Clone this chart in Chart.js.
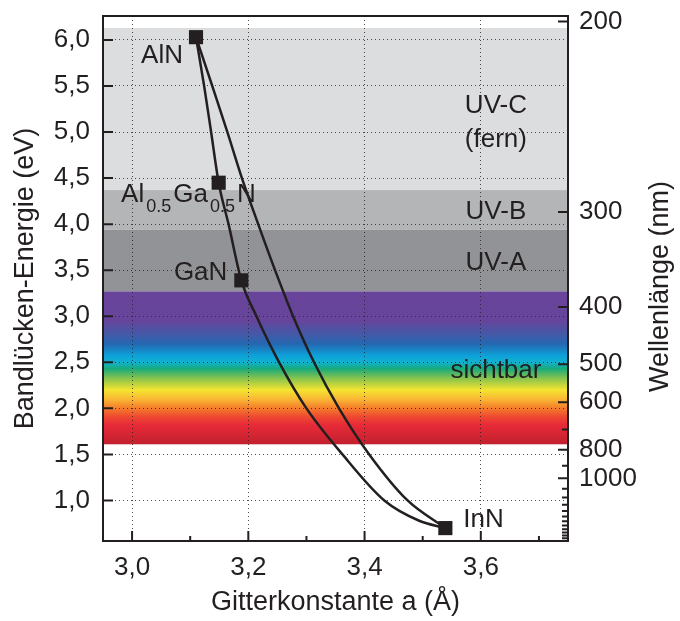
<!DOCTYPE html>
<html>
<head>
<meta charset="utf-8">
<title>Bandlücke und Gitterkonstante</title>
<script src="https://cdn.jsdelivr.net/npm/chart.js@4.4.1/dist/chart.umd.min.js"></script>
<style>
  html, body { margin: 0; padding: 0; background: #fff; }
  #chart { display: block; }
</style>
</head>
<body>
<canvas id="chart" width="680" height="621"></canvas>
<script>
// nitride materials (squares)
const materials = ["AlN", "Al0.5Ga0.5N", "GaN", "InN"];
const latticeA = [3.11, 3.149, 3.188, 3.539];
const gapE = [6.03, 4.45, 3.39, 0.70];

// curve AlN -> AlGaN -> GaN -> InN
const curve1A = [3.11, 3.124, 3.136, 3.149, 3.166, 3.188, 3.214, 3.253, 3.300, 3.362, 3.434, 3.494, 3.539];
const curve1E = [6.03, 5.5, 5.0, 4.45, 4.0, 3.39, 3.0, 2.5, 2.0, 1.5, 1.0, 0.78, 0.70];

// curve AlN -> InN
const curve2A = [3.11, 3.138, 3.164, 3.189, 3.217, 3.246, 3.277, 3.313, 3.356, 3.408, 3.474, 3.539];
const curve2E = [6.03, 5.5, 5.0, 4.5, 4.0, 3.5, 3.0, 2.5, 2.0, 1.5, 1.0, 0.70];

// spectral regions, energy range in eV
const bandNames = ["UV-C", "UV-B", "UV-A", "sichtbar"];
const bandNotes = ["(fern)", "", "", ""];
const bandTop = [6.13, 4.37, 3.94, 3.27];
const bandBottom = [4.37, 3.94, 3.27, 1.61];

// axis ticks
const xMajorTicks = [3.0, 3.2, 3.4, 3.6];
const xMinorTicks = [3.1, 3.3, 3.5, 3.7];
const yTicks = [1.0, 1.5, 2.0, 2.5, 3.0, 3.5, 4.0, 4.5, 5.0, 5.5, 6.0];
const wlLabeled = [200, 300, 400, 500, 600, 800, 1000];
const wlMinor = [700, 900, 1100, 1200, 1300, 1400, 1500, 1600, 1700, 1800, 1900, 2000, 2100];

// ---- styles ----
const INK = "#231f20";
const GRID = "rgba(35,31,32,0.8)";
const FONT = "'Liberation Sans', Arial, Helvetica, sans-serif";
const bandColors = ["#dcdddf", "#b4b5b7", "#929396", null];
// colour stops of the visible spectrum (eV, colour)
const spectrum = [
    [3.27, "#68449a"], [2.95, "#66459b"], [2.80, "#435aa8"], [2.70, "#2567b1"],
    [2.57, "#0da2d9"], [2.50, "#12b1cf"], [2.43, "#18ab7b"], [2.32, "#8dc54b"],
    [2.20, "#f4e431"], [2.09, "#f9b233"], [2.00, "#f47b2a"], [1.91, "#ee4a31"],
    [1.82, "#e72a38"], [1.61, "#c2202f"]
];
const bandLabelX = 3.626;
const bandLabelE = [5.21, 4.054, 3.50, 2.333];
// label offsets from the square, in px: [dx, dy, align]
const matLabelOffset = [[-13, 26, "right"], [-97.6, 19, "left"], [-14, -0.7, "right"], [18, -1.3, "left"]];

const toPts = (xs, ys) => xs.map((x, i) => ({ x: x, y: ys[i] }));
const ticksFrom = vals => vals.map(v => ({ value: v }));

function drawRich(ctx, text, x, y) {
    // numbers like 0.5 are drawn as subscripts
    const parts = text.split(/(\d\.\d)/).filter(p => p !== "");
    let cx = x;
    parts.forEach(p => {
        const sub = /^\d\.\d$/.test(p);
        ctx.font = (sub ? "18px " : "26px ") + FONT;
        ctx.fillText(p, cx, sub ? y + 10 : y);
        cx += ctx.measureText(p).width + 2;
    });
}

function noPad(s) {
    s.paddingTop = 0; s.paddingBottom = 0;
    s.paddingLeft = 0; s.paddingRight = 0;
}

const decor = {
    id: "decor",
    beforeDraw(chart) {
        const ctx = chart.ctx, area = chart.chartArea, ys = chart.scales.y;
        ctx.save();
        for (let i = 0; i < bandNames.length; i++) {
            const y1 = ys.getPixelForValue(bandTop[i]);
            const y2 = ys.getPixelForValue(bandBottom[i]);
            if (bandColors[i]) {
                ctx.fillStyle = bandColors[i];
            } else {
                const g = ctx.createLinearGradient(0, y1, 0, y2);
                spectrum.forEach(s => {
                    g.addColorStop((bandTop[i] - s[0]) / (bandTop[i] - bandBottom[i]), s[1]);
                });
                ctx.fillStyle = g;
            }
            ctx.fillRect(area.left, y1, area.right - area.left, y2 - y1);
        }
        ctx.restore();
    },
    afterDraw(chart) {
        const ctx = chart.ctx, area = chart.chartArea;
        const xs = chart.scales.x, ys = chart.scales.y, y2s = chart.scales.y2;
        ctx.save();
        ctx.strokeStyle = INK;
        ctx.fillStyle = INK;

        // inward tick marks
        ctx.lineWidth = 2;
        ctx.beginPath();
        xs.ticks.forEach(t => {
            const px = xs.getPixelForValue(t.value);
            ctx.moveTo(px, area.bottom); ctx.lineTo(px, area.bottom - 10);
        });
        xMinorTicks.forEach(v => {
            const px = xs.getPixelForValue(v);
            ctx.moveTo(px, area.bottom); ctx.lineTo(px, area.bottom - 5);
        });
        ys.ticks.forEach(t => {
            const py = ys.getPixelForValue(t.value);
            ctx.moveTo(area.left, py); ctx.lineTo(area.left + 10, py);
        });
        y2s.ticks.forEach(t => {
            const py = y2s.getPixelForValue(t.value);
            const major = t.label !== "";
            ctx.moveTo(area.right, py); ctx.lineTo(area.right - (major ? 10 : 6), py);
        });
        ctx.stroke();

        // frame
        ctx.lineWidth = 2;
        ctx.strokeRect(area.left, area.top, area.right - area.left, area.bottom - area.top);

        // right axis title, reading bottom to top
        ctx.save();
        ctx.font = "27px " + FONT;
        ctx.textAlign = "center";
        ctx.textBaseline = "middle";
        ctx.translate(661, (area.top + area.bottom) / 2 + 8);
        ctx.rotate(-Math.PI / 2);
        ctx.fillText("Wellenlänge (nm)", 0, 0);
        ctx.restore();

        // region labels
        ctx.font = "26px " + FONT;
        ctx.textAlign = "center";
        ctx.textBaseline = "alphabetic";
        const lx = xs.getPixelForValue(bandLabelX);
        bandNames.forEach((name, i) => {
            const py = ys.getPixelForValue(bandLabelE[i]);
            ctx.fillText(name, lx, py);
            if (bandNotes[i]) ctx.fillText(bandNotes[i], lx, py + 34);
        });

        // material labels
        materials.forEach((m, i) => {
            const px = xs.getPixelForValue(latticeA[i]);
            const py = ys.getPixelForValue(gapE[i]);
            const off = matLabelOffset[i];
            ctx.textAlign = off[2];
            if (/\d\.\d/.test(m)) {
                ctx.textAlign = "left";
                drawRich(ctx, m, px + off[0], py + off[1]);
            } else {
                ctx.font = "26px " + FONT;
                ctx.fillText(m, px + off[0], py + off[1]);
            }
        });
        ctx.restore();
    }
};

const tickFont = { family: FONT, size: 26 };
const titleFont = { family: FONT, size: 27 };

new Chart(document.getElementById("chart"), {
    type: "scatter",
    data: {
        datasets: [
            {
                label: "AlN - InN",
                data: toPts(curve2A, curve2E),
                showLine: true,
                borderColor: INK,
                borderWidth: 2.5,
                pointRadius: 0,
                cubicInterpolationMode: "monotone",
                order: 2
            },
            {
                label: "AlN - GaN - InN",
                data: toPts(curve1A, curve1E),
                showLine: true,
                borderColor: INK,
                borderWidth: 2.5,
                pointRadius: 0,
                cubicInterpolationMode: "monotone",
                order: 1
            },
            {
                label: "Materialien",
                data: toPts(latticeA, gapE),
                pointStyle: "rect",
                pointRadius: 10,
                backgroundColor: INK,
                borderColor: INK,
                borderWidth: 0,
                order: 0
            }
        ]
    },
    options: {
        responsive: false,
        animation: false,
        layout: { padding: { top: 16, left: 0, right: 0, bottom: 0 }, autoPadding: false },
        plugins: { legend: { display: false }, tooltip: { enabled: false } },
        scales: {
            x: {
                type: "linear",
                min: 2.95,
                max: 3.75,
                afterBuildTicks: s => { s.ticks = ticksFrom(xMajorTicks); },
                afterFit: s => { s.height = 80; noPad(s); },
                border: { display: false, dash: [1, 3] },
                grid: { color: GRID, lineWidth: 1, drawTicks: false },
                ticks: {
                    padding: 11,
                    color: INK,
                    font: tickFont,
                    callback: v => v.toFixed(1).replace(".", ",")
                },
                title: {
                    display: true,
                    text: "Gitterkonstante a (Å)",
                    color: INK,
                    font: titleFont,
                    padding: { top: 0, bottom: 2 }
                }
            },
            y: {
                type: "linear",
                position: "left",
                min: 0.56,
                max: 6.26,
                afterBuildTicks: s => { s.ticks = ticksFrom(yTicks); },
                afterFit: s => { s.width = 103; noPad(s); },
                border: { display: false, dash: [1, 3] },
                grid: { color: GRID, lineWidth: 1, drawTicks: false },
                ticks: {
                    padding: 13,
                    color: INK,
                    font: tickFont,
                    callback: v => v.toFixed(1).replace(".", ",")
                },
                title: {
                    display: true,
                    text: "Bandlücken-Energie (eV)",
                    color: INK,
                    font: titleFont,
                    padding: { top: 9, bottom: 0 }
                }
            },
            y2: {
                type: "linear",
                position: "right",
                min: 0.56,
                max: 6.26,
                afterBuildTicks: s => {
                    s.ticks = ticksFrom(wlLabeled.concat(wlMinor).map(w => 1240 / w));
                },
                afterFit: s => { s.width = 112; noPad(s); },
                border: { display: false },
                grid: { display: false, drawTicks: false },
                ticks: {
                    autoSkip: false,
                    padding: 11,
                    color: INK,
                    font: tickFont,
                    callback: v => {
                        const w = Math.round(1240 / v);
                        return wlLabeled.includes(w) ? String(w) : "";
                    }
                }
            }
        }
    },
    plugins: [decor]
});
</script>
</body>
</html>
